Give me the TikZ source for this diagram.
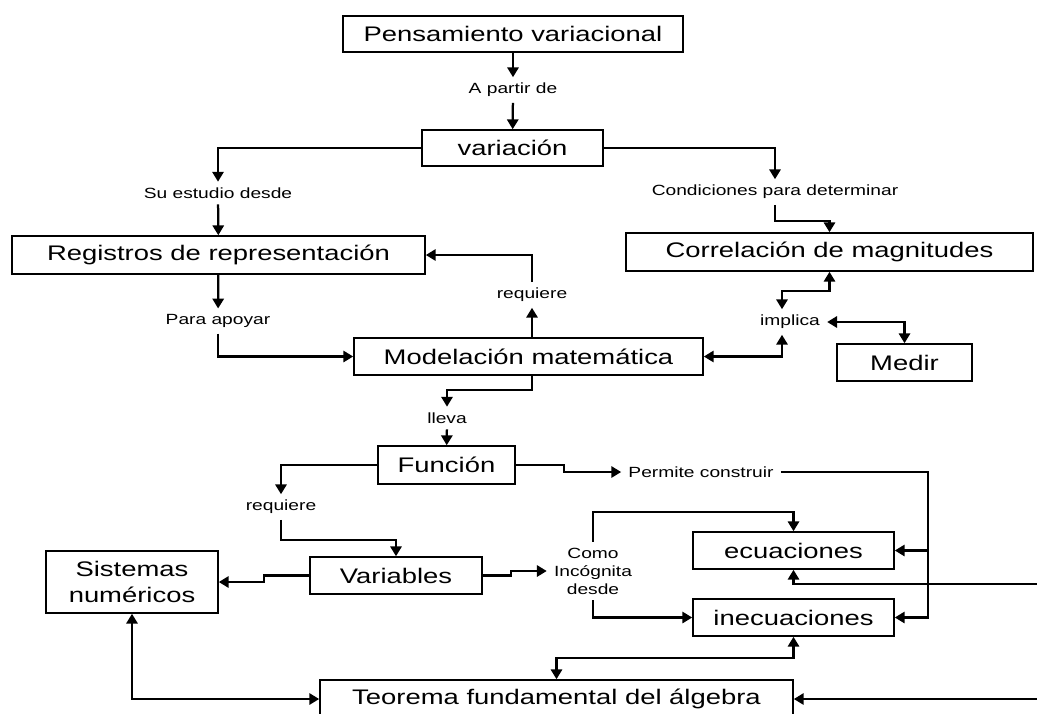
\documentclass[tikz,border=0pt]{standalone}
\usepackage{fontspec}
\setmainfont{Liberation Sans}[FakeStretch=1.3]
\usetikzlibrary{arrows.meta}

\begin{document}
\begin{tikzpicture}[x=0.025cm, y=-0.025cm, >={Triangle[length=7pt,width=8pt]},
    every node/.style={inner sep=1pt},
    box/.style={draw, line width=1.1pt, font=\fontsize{15}{18.4}\selectfont, align=center},
    lbl/.style={font=\fontsize{10.5}{12.8}\selectfont, align=center, inner xsep=5pt, inner ysep=4pt},
    link/.style={line width=1.6pt}]
  \useasboundingbox (0,0) rectangle (1037,713);

  % Concepts
  \node[box, minimum width=8.5cm, minimum height=0.9cm] (penvar) at (513,34) {Pensamiento variacional};
  \node[box, minimum width=4.525cm, minimum height=0.9cm] (variacion) at (512.5,148) {variación};
  \node[box, minimum width=10.325cm, minimum height=0.95cm] (registros) at (218.5,255) {Registros de representación};
  \node[box, minimum width=10.175cm, minimum height=0.95cm] (correlacion) at (829.5,252) {Correlación de magnitudes};
  \node[box, minimum width=8.725cm, minimum height=0.925cm] (modelacion) at (528.5,356.5) {Modelación matemática};
  \node[box, minimum width=3.375cm, minimum height=0.925cm] (medir) at (904.5,362.5) {Medir};
  \node[box, minimum width=3.425cm, minimum height=0.95cm] (funcion) at (446.5,465) {Función};
  \node[box, minimum width=4.3cm, minimum height=0.925cm] (variables) at (396,575.5) {Variables};
  \node[box, minimum width=4.3cm, minimum height=1.55cm] (sistemas) at (132,582) {Sistemas\\numéricos};
  \node[box, minimum width=5.025cm, minimum height=0.925cm] (ecuaciones) at (793.5,550.5) {ecuaciones};
  \node[box, minimum width=5.025cm, minimum height=0.925cm] (inecuaciones) at (793.5,617.5) {inecuaciones};
  \node[box, minimum width=11.825cm, minimum height=0.95cm] (teorema) at (556.5,699) {Teorema fundamental del álgebra};

  % Linking words
  \node[lbl] (apartir) at (513,90) {A partir de};
  \node[lbl] (suestudio) at (218,193) {Su estudio desde};
  \node[lbl] (condiciones) at (775,192) {Condiciones para determinar};
  \node[lbl] (paraapoyar) at (218,321) {Para apoyar};
  \node[lbl] (requiereA) at (532,295) {requiere};
  \node[lbl] (implica) at (790,322) {implica};
  \node[lbl] (lleva) at (447,418) {lleva};
  \node[lbl] (requiereB) at (281,507) {requiere};
  \node[lbl] (permite) at (701,472) {Permite construir};
  \node[lbl] (como) at (593,571) {Como\\Incógnita\\desde};

  % Free ends at the right border
  \coordinate (edgeA) at (1040,584);
  \coordinate (edgeB) at (1040,699);
  \coordinate (bus) at (928,472);

  % Connectors
  \draw[link, ->] (penvar) -- (apartir);
  \draw[link, ->] (apartir) -- (variacion);
  \draw[link, ->] (variacion.west) -| (suestudio);
  \draw[link, ->] (suestudio) -- (registros);
  \draw[link, ->] (variacion.east) -| (condiciones);
  \draw[link, ->] (condiciones.south) -- ++(0,16) -| (correlacion.north);
  \draw[link, ->] (registros) -- (paraapoyar);
  \draw[link, ->] (paraapoyar.south) |- (modelacion.west);
  \draw[link, ->] (modelacion.north -| requiereA) -- (requiereA);
  \draw[link, ->] (requiereA.north) |- (registros.east);
  \draw[link, <->] (correlacion.south) -- ++(0,19) -| ([xshift=-0.2cm]implica.north);
  \draw[link, <->] (modelacion.east) -| ([xshift=-0.2cm]implica.south);
  \draw[link, <->] (implica.east) -| (medir.north);
  \draw[link, ->] (modelacion.south -| requiereA) -- ++(0,14) -| (lleva);
  \draw[link, ->] (lleva) -- (funcion);
  \draw[link, ->] (funcion.west) -| (requiereB);
  \draw[link, ->] (requiereB.south) -- ++(0,20) -| (variables.north);
  \draw[link, ->] (funcion.east) -- ++(48,0) |- (permite.west);
  \draw[link, ->] (permite.east) -| (bus |- inecuaciones.east) -- (inecuaciones.east);
  \draw[link, ->] (bus |- ecuaciones.east) -- (ecuaciones.east);
  \draw[link, ->] (variables.east) -- ++(28,0) |- (como.west);
  \draw[link, ->] (como.north) -- ++(0,-30) -| (ecuaciones.north);
  \draw[link, ->] (como.south) |- (inecuaciones.west);
  \draw[link, ->] (variables.west) -- ++(-45,0) |- (sistemas.east);
  \draw[link, <->] (sistemas.south) |- (teorema.west);
  \draw[link, <->] (inecuaciones.south) -- ++(0,21) -| (teorema.north);
  \draw[link, ->] (edgeA) -| (ecuaciones.south);
  \draw[link, ->] (edgeB) -- (teorema.east);
\end{tikzpicture}
\end{document}
